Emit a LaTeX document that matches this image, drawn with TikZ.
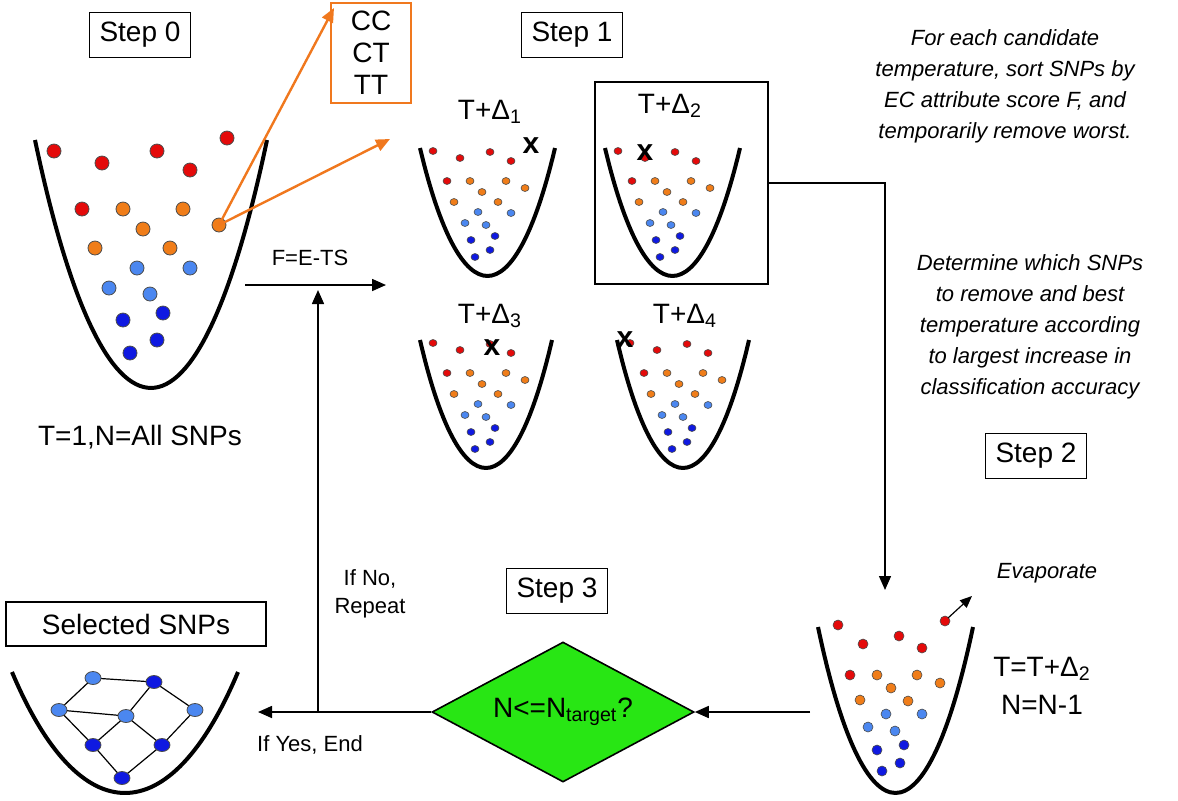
\documentclass[tikz,border=0pt]{standalone}
\usepackage{fontspec}
\setmainfont{Liberation Sans}
\usetikzlibrary{shapes.geometric,arrows.meta}
\definecolor{snpred}{RGB}{228,10,10}
\definecolor{snporange}{RGB}{240,125,25}
\definecolor{snplight}{RGB}{75,135,240}
\definecolor{snpblue}{RGB}{15,25,225}
\definecolor{zoomorange}{RGB}{240,120,30}
\definecolor{testgreen}{RGB}{40,230,20}
\tikzset{
  bowl/.style={line width=2pt},
  stepbox/.style={draw, line width=0.7pt, font=\fontsize{14}{16}\selectfont, inner sep=5pt, minimum height=22pt},
  note/.style={font=\fontsize{11}{15.5}\selectfont\itshape, align=center},
  big/.style={font=\fontsize{14}{19}\selectfont, align=center},
  flow/.style={-{Triangle[length=7pt,width=6pt]}, line width=0.8pt},
  xmark/.style={font=\fontsize{15}{15}\selectfont\bfseries, inner sep=0pt}
}
\newcommand{\bowl}[4]{\draw[bowl] (#1,#2) .. controls ({#1+0.3*#3},{#2+1.333*#4}) and ({#1+0.7*#3},{#2+1.333*#4}) .. ({#1+#3},#2);}
\newcommand{\smalldots}[2]{%
  \foreach \dx/\dy in {13/3,40/10,70/4,91/13,27/33}
    \fill[snpred, draw=black!70, line width=0.3pt] ({#1+\dx},{#2+\dy}) ellipse (4 and 3.5);
  \foreach \dx/\dy in {50/33,86/33,62/44,34/54,78/54,105/40}
    \fill[snporange, draw=black!70, line width=0.3pt] ({#1+\dx},{#2+\dy}) ellipse (4 and 3.5);
  \foreach \dx/\dy in {58/64,91/65,45/75,66/77}
    \fill[snplight, draw=black!70, line width=0.3pt] ({#1+\dx},{#2+\dy}) ellipse (4 and 3.5);
  \foreach \dx/\dy in {51/92,75/88,70/102,55/109}
    \fill[snpblue, draw=black!70, line width=0.3pt] ({#1+\dx},{#2+\dy}) ellipse (4 and 3.5);}
\begin{document}
\begin{tikzpicture}[x=0.5pt, y=-0.5pt]
\useasboundingbox (0,0) rectangle (1178,800);

% step labels
\node[stepbox] (step0) at (140,35) {Step 0};
\node[stepbox] (step1) at (572,35) {Step 1};
\node[stepbox] (step2) at (1036,456) {Step 2};
\node[stepbox] (step3) at (557,591) {Step 3};
\node[stepbox, minimum width=130pt] (selected) at (136,624) {Selected SNPs};

% step 0 bowl
\bowl{35}{140}{232}{248}
\foreach \x/\y in {54/151,102/163,157/151,190/170,227/138,82/209}
  \fill[snpred, draw=black!70, line width=0.4pt] (\x,\y) circle (7);
\foreach \x/\y in {123/209,183/209,143/229,95/248,170/248,219/225}
  \fill[snporange, draw=black!70, line width=0.4pt] (\x,\y) circle (7);
\foreach \x/\y in {137/268,190/268,109/288,150/294}
  \fill[snplight, draw=black!70, line width=0.4pt] (\x,\y) circle (7);
\foreach \x/\y in {123/320,163/313,130/353,157/340}
  \fill[snpblue, draw=black!70, line width=0.4pt] (\x,\y) circle (7);
\coordinate (pick) at (219,225);
\node[big] (t0) at (140,437) {T=1,N=All SNPs};

% genotype box
\node[draw=zoomorange, line width=1pt, font=\fontsize{14}{16}\selectfont, align=center, inner sep=3pt, minimum width=40pt, minimum height=50pt] (geno) at (371,53) {CC\\CT\\TT};
\coordinate (tipa) at (334,8);
\coordinate (tipb) at (390,139);
\draw[-{Triangle[length=7pt,width=6pt]}, zoomorange, line width=1.2pt] (pick) -- (tipa);
\draw[-{Triangle[length=7pt,width=6pt]}, zoomorange, line width=1.2pt] (pick) -- (tipb);

% step 1 bowls
\bowl{420}{148}{135}{128}
\smalldots{420}{148}
\node[big] (d1) at (490,112) {T+Δ\textsubscript{1}};
\node[xmark] (x1) at (531,146) {x};
\bowl{605}{148}{135}{128}
\smalldots{605}{148}
\node[big] (d2) at (670,106) {T+Δ\textsubscript{2}};
\node[xmark] (x2) at (645,153) {x};
\node[draw, line width=0.7pt, minimum width=86.5pt, minimum height=101pt] (best) at (681.5,183) {};
\bowl{420}{340}{132}{128}
\smalldots{420}{340}
\node[big] (d3) at (490,316) {T+Δ\textsubscript{3}};
\node[xmark] (x3) at (492,348) {x};
\bowl{617}{340}{132}{128}
\smalldots{617}{340}
\node[big] (d4) at (685,316) {T+Δ\textsubscript{4}};
\node[xmark] (x4) at (625,340) {x};

\node[big, font=\fontsize{11}{14}\selectfont] (energy) at (310,258) {F=E-TS};
\coordinate (fa) at (245,285);
\coordinate (fb) at (386,285);
\draw[flow] (fa) -- (fb);

% notes
\node[note] (sortnote) at (1005,86) {For each candidate\\temperature, sort SNPs by\\EC attribute score F, and\\temporarily remove worst.};
\node[note] (picknote) at (1030,327) {Determine which SNPs\\to remove and best\\temperature according\\to largest increase in\\classification accuracy};

% step 2 bowl
\bowl{818}{627}{155}{166}
\foreach \x/\y in {838/625,863/644,899/636,922/648,850/675,945/621}
  \fill[snpred, draw=black!70, line width=0.3pt] (\x,\y) circle (5);
\foreach \x/\y in {877/675,917/675,891/688,860/700,908/701,940/683}
  \fill[snporange, draw=black!70, line width=0.3pt] (\x,\y) circle (5);
\foreach \x/\y in {886/714,922/714,868/727,895/731}
  \fill[snplight, draw=black!70, line width=0.3pt] (\x,\y) circle (5);
\foreach \x/\y in {877/750,904/745,882/771,900/763}
  \fill[snpblue, draw=black!70, line width=0.3pt] (\x,\y) circle (5);
\coordinate (gone) at (948,618);
\coordinate (away) at (972,596);
\draw[-{Triangle[length=6pt,width=5pt]}, line width=0.6pt] (gone) -- (away);
\node[note] (evap) at (1047,573) {Evaporate};
\node[big] (t2) at (1042,686) {T=T+Δ\textsubscript{2}\\N=N-1};
\coordinate (into2) at (885,590);
\draw[flow, line width=0.7pt] (best.east) -| (into2);

% step 3 test
\node[diamond, draw, fill=testgreen, line width=0.8pt, aspect=1.87, minimum width=131pt, minimum height=70pt, inner sep=0pt, big] (test) at (563,712) {N<=N\textsubscript{target}?};
\coordinate (from2) at (810,712);
\draw[flow] (from2) -- (test.east);
\coordinate (toend) at (258,712);
\draw[flow] (test.west) -- (toend);
\coordinate (up) at (318,712);
\coordinate (uptop) at (318,290);
\draw[flow] (up) -- (uptop);
\node[big, font=\fontsize{11}{14}\selectfont] (repeat) at (370,594) {If No,\\Repeat};
\node[big, font=\fontsize{11}{14}\selectfont] (yes) at (310,745) {If Yes, End};

% selected network
\bowl{12}{672}{226}{121}
\foreach \n/\x/\y in {a/93/678,b/154/682,c/59/710,d/126/716,e/195/710,f/93/745,g/162/745,h/122/778}
  \coordinate (\n) at (\x,\y);
\draw[line width=0.6pt] (a) -- (b) (a) -- (c) (b) -- (d) (b) -- (e) (c) -- (d) (c) -- (f)
  (d) -- (f) (d) -- (g) (e) -- (g) (f) -- (h) (g) -- (h);
\foreach \n in {a,c,d,e}
  \fill[snplight, draw=black!70, line width=0.4pt] (\n) ellipse (8 and 6.5);
\foreach \n in {b,f,g,h}
  \fill[snpblue, draw=black!70, line width=0.4pt] (\n) ellipse (8 and 6.5);
\end{tikzpicture}
\end{document}
